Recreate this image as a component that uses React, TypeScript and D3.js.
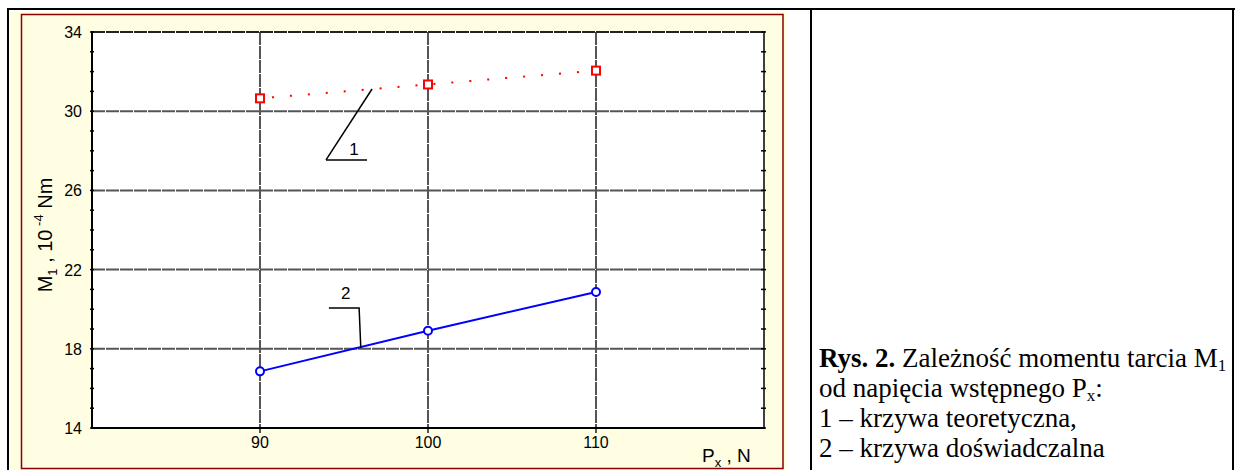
import React, { useEffect, useRef } from 'react';
import * as d3 from 'd3';

// chart values
const pxValues = [90, 100, 110];
const theoretical = [30.65, 31.35, 32.05];
const experimental = [16.86, 18.91, 20.87];
const yTicks = [14, 18, 22, 26, 30, 34];
const yMinor = d3.range(14, 35, 1);
const xTicks = [90, 100, 110];

// leader lines for curve numbers (data coords)
const leader1 = [[93.93, 27.54], [96.37, 27.54]];
const leader1b = [[93.93, 27.54], [96.67, 31.12]];
const leader2 = [[94.1, 20.06], [95.9, 20.06], [96.0, 18.04]];
const label1 = { x: 95.6, y: 27.8, text: '1' };
const label2 = { x: 95.1, y: 20.5, text: '2' };

const captionLines = [
  'od napięcia wstępnego P',
  '1 – krzywa teoretyczna,',
  '2 – krzywa doświadczalna',
];

const drawChart = (svgEl: SVGSVGElement) => {
  const svg = d3.select(svgEl);
  svg.selectAll('*').remove();

  const W = 1236;
  const H = 470;
  const plot = { left: 92, top: 32, right: 764, bottom: 428 };

  svg.append('rect').attr('width', W).attr('height', H).attr('fill', '#fff');

  // pale yellow panel with dark red frame
  svg.append('rect').attr('x', 10).attr('y', 12).attr('width', 777).attr('height', 470)
    .attr('fill', '#fffde2');
  svg.append('rect').attr('x', 21.5).attr('y', 14.5).attr('width', 761.5).attr('height', 454)
    .attr('fill', 'none').attr('stroke', '#8b0000').attr('stroke-width', 1.5);

  // table borders
  svg.append('line').attr('x1', 7).attr('x2', 1235).attr('y1', 9).attr('y2', 9)
    .attr('stroke', '#000').attr('stroke-width', 2);
  [8, 811, 1233].forEach((x) => {
    svg.append('line').attr('x1', x).attr('x2', x).attr('y1', 8).attr('y2', H)
      .attr('stroke', '#000').attr('stroke-width', 2);
  });

  const x = d3.scaleLinear().domain([80, 120]).range([plot.left, plot.right]);
  const y = d3.scaleLinear().domain([14, 34]).range([plot.bottom, plot.top]);

  svg.append('rect').attr('x', plot.left).attr('y', plot.top)
    .attr('width', plot.right - plot.left).attr('height', plot.bottom - plot.top)
    .attr('fill', '#fff');

  // grid
  const grid = svg.append('g');
  grid.selectAll('.hg').data(yTicks.filter((t) => t > 14 && t < 34)).enter().append('line')
    .attr('x1', plot.left).attr('x2', plot.right)
    .attr('y1', (d) => y(d)).attr('y2', (d) => y(d))
    .attr('stroke', '#555').attr('stroke-width', 2).style('stroke-dasharray', '13, 1');
  grid.selectAll('.vg').data(xTicks).enter().append('line')
    .attr('x1', (d) => x(d)).attr('x2', (d) => x(d))
    .attr('y1', plot.top).attr('y2', plot.bottom + 5)
    .attr('stroke', '#555').attr('stroke-width', 2).style('stroke-dasharray', '13, 1');

  // frame
  svg.append('line').attr('x1', plot.left).attr('x2', plot.right).attr('y1', plot.top).attr('y2', plot.top)
    .attr('stroke', '#222').attr('stroke-width', 2).style('stroke-dasharray', '13, 1');
  svg.append('line').attr('x1', plot.right).attr('x2', plot.right).attr('y1', plot.top - 1).attr('y2', plot.bottom)
    .attr('stroke', '#000').attr('stroke-width', 1.5);
  svg.append('line').attr('x1', plot.left).attr('x2', plot.left).attr('y1', plot.top - 1).attr('y2', plot.bottom + 1)
    .attr('stroke', '#000').attr('stroke-width', 2);
  svg.append('line').attr('x1', plot.left - 1).attr('x2', plot.right + 1).attr('y1', plot.bottom).attr('y2', plot.bottom)
    .attr('stroke', '#000').attr('stroke-width', 2);

  // minor ticks on left and right axes
  svg.selectAll('.lt').data(yMinor).enter().append('line')
    .attr('x1', plot.left - 2).attr('x2', plot.left + 2)
    .attr('y1', (d) => y(d)).attr('y2', (d) => y(d))
    .attr('stroke', '#000').attr('stroke-width', 1.5);
  svg.selectAll('.rt').data(yMinor).enter().append('line')
    .attr('x1', plot.right - 3).attr('x2', plot.right + 2)
    .attr('y1', (d) => y(d)).attr('y2', (d) => y(d))
    .attr('stroke', '#000').attr('stroke-width', 1.5);

  const sans = 'Arial, "Liberation Sans", sans-serif';

  // tick labels
  svg.selectAll('.yl').data(yTicks).enter().append('text')
    .attr('x', plot.left - 10).attr('y', (d) => y(d) + 6)
    .attr('text-anchor', 'end').style('font-family', sans).style('font-size', '16px')
    .text((d) => d);
  svg.selectAll('.xl').data(xTicks).enter().append('text')
    .attr('x', (d) => x(d)).attr('y', plot.bottom + 20)
    .attr('text-anchor', 'middle').style('font-family', sans).style('font-size', '16px')
    .text((d) => d);

  // y axis title
  const yt = svg.append('text')
    .attr('transform', `translate(52, ${(plot.top + plot.bottom) / 2 + 5}) rotate(-90)`)
    .attr('text-anchor', 'middle').style('font-family', sans).style('font-size', '20px');
  yt.append('tspan').text('M');
  yt.append('tspan').attr('dy', 5).style('font-size', '13px').text('1');
  yt.append('tspan').attr('dy', -5).text(' , 10');
  yt.append('tspan').attr('dy', -9).style('font-size', '13px').text(' -4');
  yt.append('tspan').attr('dy', 9).text('  Nm');

  // x axis title
  const xt = svg.append('text').attr('x', 702).attr('y', 462)
    .style('font-family', sans).style('font-size', '19px');
  xt.append('tspan').text('P');
  xt.append('tspan').attr('dy', 5).style('font-size', '13px').text('x');
  xt.append('tspan').attr('dy', -5).text(' , N');

  // theoretical curve (1)
  svg.append('path')
    .datum(pxValues.map((p, i) => [p, theoretical[i]]))
    .attr('fill', 'none').attr('stroke', '#ff0000').attr('stroke-width', 2)
    .style('stroke-dasharray', '2, 16').style('stroke-dashoffset', -12)
    .attr('d', d3.line().x((d) => x(d[0])).y((d) => y(d[1])));
  svg.selectAll('.sq').data(pxValues).enter().append('rect')
    .attr('x', (d) => x(d) - 4).attr('y', (d, i) => y(theoretical[i]) - 4)
    .attr('width', 8).attr('height', 8)
    .attr('fill', '#fff').attr('stroke', '#ff0000').attr('stroke-width', 2);

  // experimental curve (2)
  svg.append('path')
    .datum(pxValues.map((p, i) => [p, experimental[i]]))
    .attr('fill', 'none').attr('stroke', '#0000ff').attr('stroke-width', 2)
    .attr('d', d3.line().x((d) => x(d[0])).y((d) => y(d[1])));
  svg.selectAll('.ci').data(pxValues).enter().append('circle')
    .attr('cx', (d) => x(d)).attr('cy', (d, i) => y(experimental[i]))
    .attr('r', 4)
    .attr('fill', '#fff').attr('stroke', '#0000ff').attr('stroke-width', 2);

  // curve number leaders
  const lineGen = d3.line().x((d) => x(d[0])).y((d) => y(d[1]));
  [leader1, leader1b, leader2].forEach((pts) => {
    svg.append('path').datum(pts).attr('fill', 'none')
      .attr('stroke', '#000').attr('stroke-width', 1.5).attr('d', lineGen as any);
  });
  [label1, label2].forEach((l) => {
    svg.append('text').attr('x', x(l.x)).attr('y', y(l.y))
      .attr('text-anchor', 'middle').style('font-family', sans).style('font-size', '17px')
      .text(l.text);
  });

  // caption
  const serif = '"Times New Roman", "Liberation Serif", serif';
  const cap = svg.append('g').style('font-family', serif).style('font-size', '27px');
  const first = cap.append('text').attr('x', 819).attr('y', 367);
  first.append('tspan').style('font-weight', 'bold').text('Rys. 2.');
  first.append('tspan').text(' Zależność momentu tarcia M');
  first.append('tspan').attr('dy', 4).style('font-size', '17px').text('1');

  const second = cap.append('text').attr('x', 819).attr('y', 397);
  second.append('tspan').text(captionLines[0]);
  second.append('tspan').attr('dy', 4).style('font-size', '17px').text('x');
  second.append('tspan').attr('dy', -4).text(':');

  cap.append('text').attr('x', 819).attr('y', 427).text(captionLines[1]);
  cap.append('text').attr('x', 819).attr('y', 457).text(captionLines[2]);
};

const App = () => {
  const ref = useRef<SVGSVGElement>(null);

  useEffect(() => {
    if (ref.current) drawChart(ref.current);
  }, []);

  return (
    <svg ref={ref} width={1236} height={470}
      style={{ position: 'absolute', left: 0, top: 0, display: 'block' }} />
  );
};

export default App;
